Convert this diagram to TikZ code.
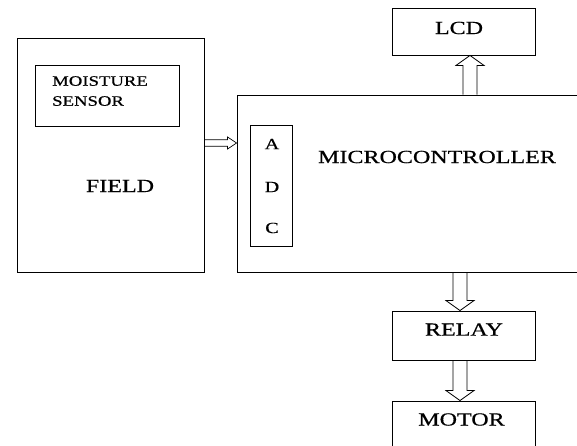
\documentclass[tikz,border=0pt]{standalone}
\usepackage{fontspec}
\setmainfont{Liberation Serif}[FakeStretch=1.3,FakeBold=0.6]
\usetikzlibrary{calc}
\tikzset{box/.style={draw,line width=0.9pt,inner sep=0pt},
    lbl/.style={inner sep=0pt,font=\fontsize{18.5}{20}\selectfont},
    small/.style={inner sep=0pt,font=\fontsize{14.4}{20}\selectfont},
    adcl/.style={inner sep=0pt,font=\fontsize{15.5}{20}\selectfont},
    % hollow block arrow: half shaft, half head, head length
    blockarrow/.style n args={3}{line width=0.8pt,to path={
        let \p1=($(\tikztotarget)!#3!(\tikztostart)$) in
        ($(\tikztostart)!#1!90:(\tikztotarget)$) -- ($(\p1)!#1!-90:(\tikztostart)$)
        -- ($(\p1)!#2!-90:(\tikztostart)$) -- (\tikztotarget)
        -- ($(\p1)!#2!90:(\tikztostart)$) -- ($(\p1)!#1!90:(\tikztostart)$)
        -- ($(\tikztostart)!#1!-90:(\tikztotarget)$)}},
    fatarrow/.style={blockarrow={7pt}{14pt}{10pt}},
    thinarrow/.style={blockarrow={3.3pt}{6pt}{9pt},line width=0.7pt}
}

\begin{document}
\begin{tikzpicture}[x=1pt,y=-1pt]
    \useasboundingbox (0,0) rectangle (577,446);

    % Field
    \node[box,minimum width=187pt,minimum height=234pt] (field) at (110.5,155) {};
    \node[box,minimum width=144pt,minimum height=61pt] (sensor) at (107,95.5) {};
    \node[small,align=left,anchor=north west] (sensortxt) at (52,76) {MOISTURE\\SENSOR};
    \node[lbl] (fieldtxt) at (120,186) {FIELD};

    % Microcontroller
    \node[box,minimum width=363pt,minimum height=177pt] (mcu) at (418.5,183.5) {};
    \node[lbl] (mcutxt) at (437,157) {MICROCONTROLLER};
    \node[box,minimum width=42pt,minimum height=121pt] (adc) at (271,185.5) {};
    \node[adcl] (a) at (272,144) {A};
    \node[adcl] (d) at (272,187) {D};
    \node[adcl] (c) at (272,228) {C};

    % LCD, relay and motor
    \node[box,minimum width=143pt,minimum height=47pt] (lcd) at (463.5,31.5) {};
    \node[lbl] (lcdtxt) at (459,28) {LCD};
    \node[box,minimum width=143pt,minimum height=49pt] (relay) at (463.5,335.5) {};
    \node[lbl] (relaytxt) at (464,329.5) {RELAY};
    \node[box,minimum width=143pt,minimum height=69pt] (motor) at (463.5,435.5) {};
    \node[lbl] (motortxt) at (461.5,419.5) {MOTOR};

    % Arrows
    \coordinate (fieldout) at ([yshift=12pt]field.east);
    \coordinate (lcdin) at ([xshift=6.5pt]lcd.south);
    \coordinate (relayin) at ([xshift=-3.5pt]relay.north);
    \draw[thinarrow] (fieldout) to (fieldout -| mcu.west);
    \draw[fatarrow] (lcdin |- mcu.north) to (lcdin);
    \draw[fatarrow] (relayin |- mcu.south) to (relayin);
    \draw[fatarrow] (relay.south -| relayin) to (motor.north -| relayin);
\end{tikzpicture}
\end{document}
